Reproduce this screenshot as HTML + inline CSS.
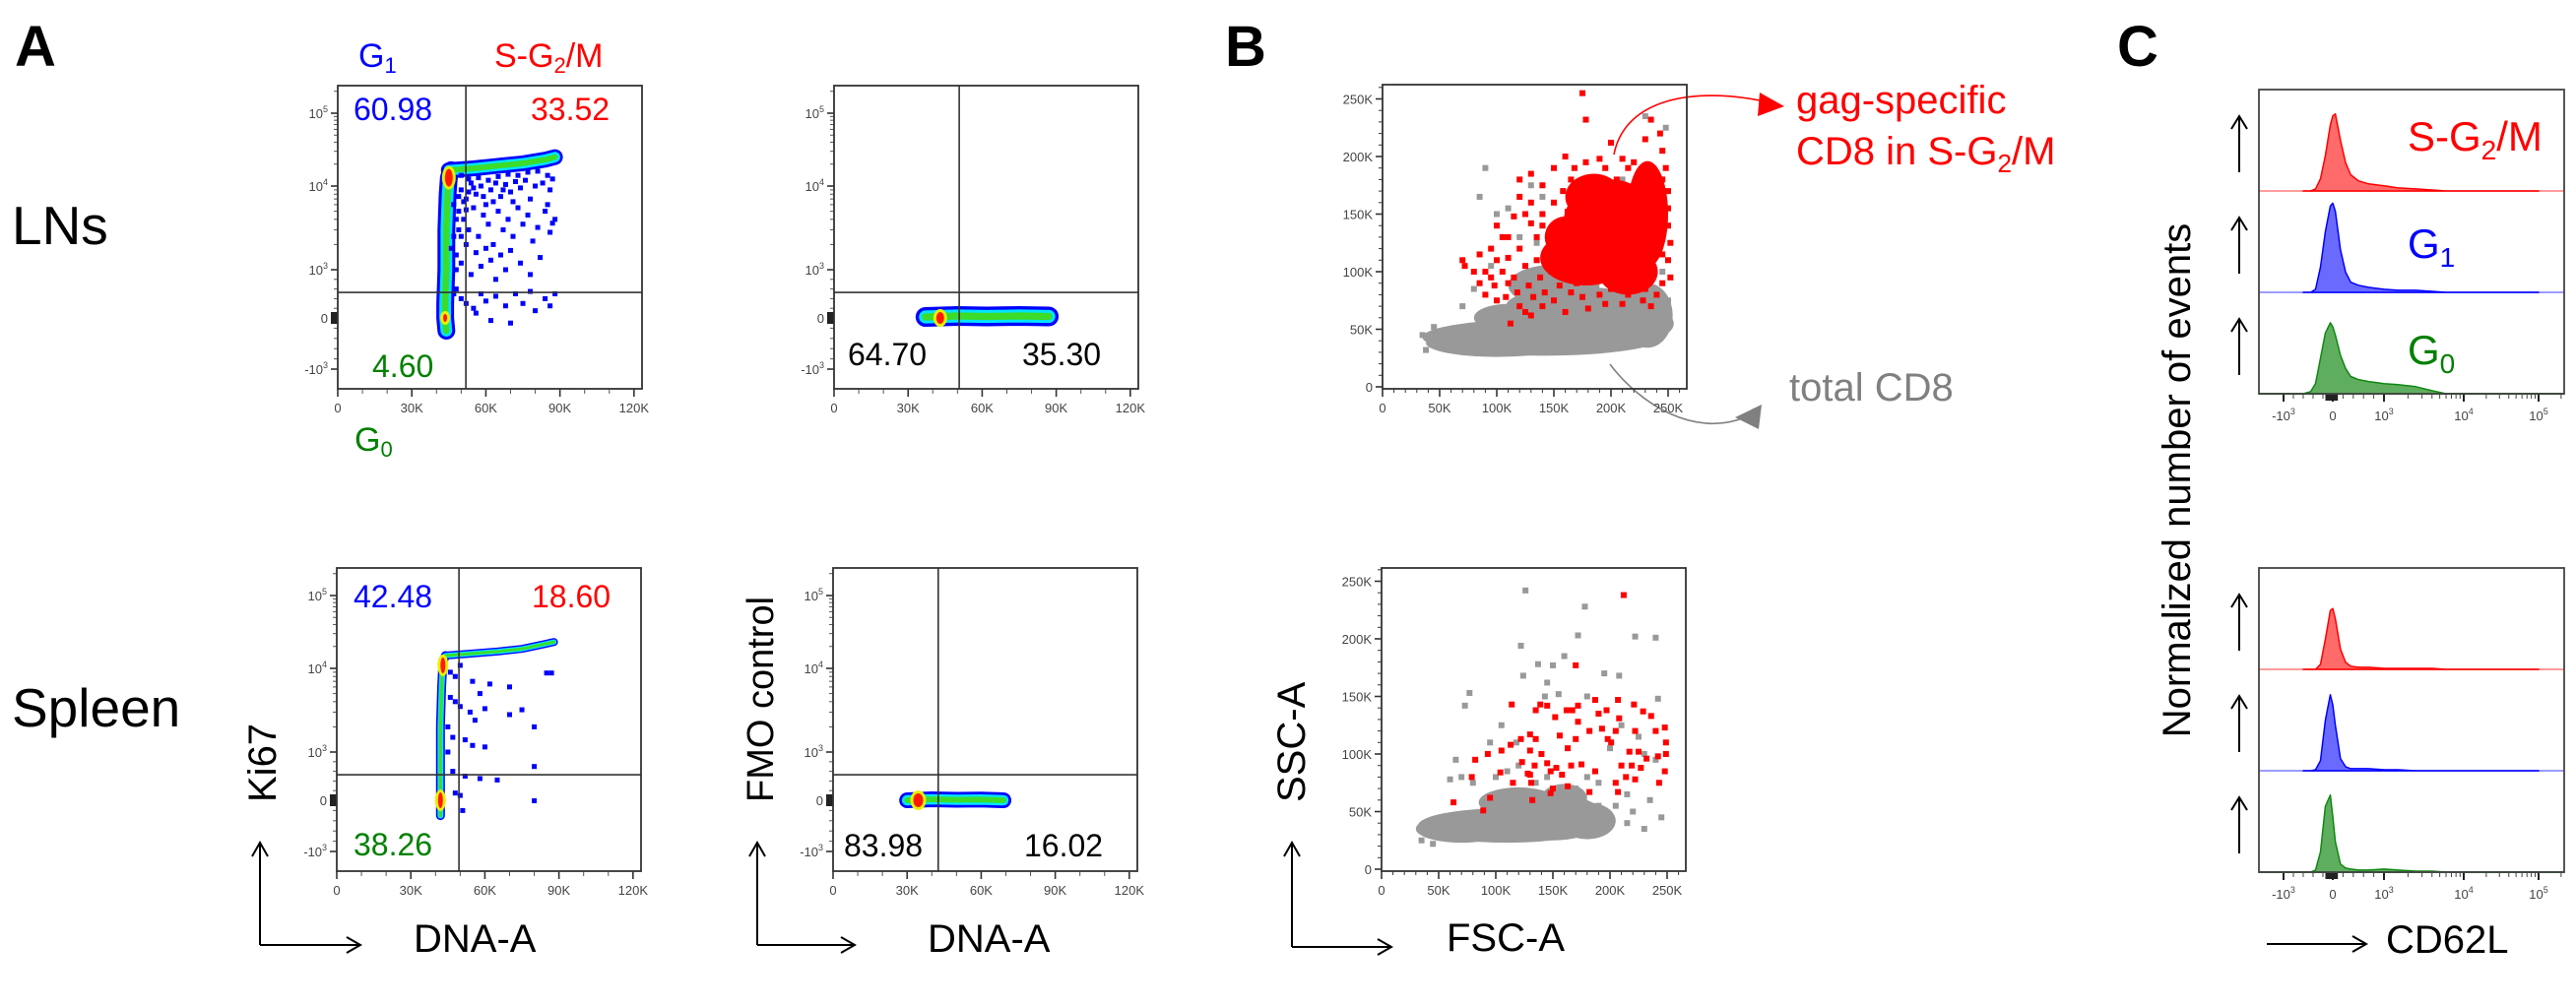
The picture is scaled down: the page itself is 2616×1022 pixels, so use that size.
<!DOCTYPE html>
<html><head><meta charset="utf-8">
<style>
html,body{margin:0;padding:0;background:#fff;}
svg{display:block;font-family:"Liberation Sans",Arial,sans-serif;}
</style></head>
<body>
<svg id="fig" width="2616" height="1022" viewBox="0 0 2616 1022" xmlns="http://www.w3.org/2000/svg">
<rect x="0" y="0" width="2616" height="1022" fill="#fff"/>
<text x="15" y="67" font-size="58" font-weight="bold">A</text>
<text x="1244" y="67" font-size="58" font-weight="bold">B</text>
<text x="2150" y="67" font-size="58" font-weight="bold">C</text>
<text x="12" y="248" font-size="55">LNs</text>
<text x="12" y="738" font-size="55">Spleen</text>

<text x="364" y="68" font-size="34" fill="#0000ff">G<tspan font-size="22" dy="6">1</tspan></text>
<text x="502" y="68" font-size="34" fill="#ff0000">S-G<tspan font-size="22" dy="6">2</tspan><tspan dy="-6">/M</tspan></text>
<text x="360" y="458" font-size="34" fill="#008000">G<tspan font-size="22" dy="6">0</tspan></text>

<text x="359" y="122" font-size="32" fill="#0000ff">60.98</text>
<text x="539" y="122" font-size="32" fill="#ff0000">33.52</text>
<text x="378" y="383" font-size="32" fill="#008000">4.60</text>
<text x="861" y="371" font-size="32" fill="#000">64.70</text>
<text x="1038" y="371" font-size="32" fill="#000">35.30</text>
<text x="359" y="617" font-size="32" fill="#0000ff">42.48</text>
<text x="540" y="617" font-size="32" fill="#ff0000">18.60</text>
<text x="359" y="869" font-size="32" fill="#008000">38.26</text>
<text x="857" y="870" font-size="32" fill="#000">83.98</text>
<text x="1040" y="870" font-size="32" fill="#000">16.02</text>

<text transform="translate(280,815) rotate(-90)" font-size="40">Ki67</text>
<text transform="translate(785,815) rotate(-90)" font-size="38">FMO control</text>
<text x="420" y="967" font-size="40">DNA-A</text>
<text x="942" y="967" font-size="40">DNA-A</text>
<text transform="translate(1325,815) rotate(-90)" font-size="40">SSC-A</text>
<text x="1469" y="966" font-size="40">FSC-A</text>
<text transform="translate(2224,488) rotate(-90)" font-size="40" text-anchor="middle">Normalized number of events</text>
<text x="2423" y="968" font-size="40">CD62L</text>

<g fill="none" stroke="#000" stroke-width="2">
  <path d="M264,960 V856 M256,870 L264,856 L272,870 M264,960 H366 M352,952 L366,960 L352,968"/>
  <path d="M769,960 V856 M761,870 L769,856 L777,870 M769,960 H868 M854,952 L868,960 L854,968"/>
  <path d="M1312,962 V856 M1304,870 L1312,856 L1320,870 M1312,962 H1413 M1399,954 L1413,962 L1399,970"/>
  <path d="M2302,959 H2403 M2389,951 L2403,959 L2389,967"/>
</g>

<text x="1824" y="115" font-size="40" fill="#ff0000">gag-specific</text>
<text x="1824" y="167" font-size="40" fill="#ff0000">CD8 in S-G<tspan font-size="26" dy="8">2</tspan><tspan dy="-8">/M</tspan></text>
<text x="1817" y="407" font-size="40" fill="#808080">total CD8</text>
<path d="M1639,157 C1650,100 1720,88 1792,103" fill="none" stroke="#ff0000" stroke-width="1.6"/>
<polygon points="1812,108 1787,94 1785,118" fill="#ff0000"/>
<path d="M1635,370 C1665,410 1720,445 1772,424" fill="none" stroke="#808080" stroke-width="1.6"/>
<polygon points="1789,411 1762,424 1786,436" fill="#808080"/>

<text x="2445" y="153" font-size="42" fill="#ff0000">S-G<tspan font-size="28" dy="9">2</tspan><tspan dy="-9">/M</tspan></text>
<text x="2445" y="262" font-size="42" fill="#0000ff">G<tspan font-size="28" dy="9">1</tspan></text>
<text x="2445" y="370" font-size="42" fill="#008000">G<tspan font-size="28" dy="9">0</tspan></text>
</svg>

<script>
// ---------------- DATA ----------------
const aXTicks = [0, 30, 60, 90, 120];
const aXTickLabels = ['0', '30K', '60K', '90K', '120K'];
const aXMinor = [10, 20, 40, 50, 70, 80, 100, 110];
const logTicks = [-1000, 0, 1000, 10000, 100000];
const logTickLabels = ['-10^3', '0', '10^3', '10^4', '10^5'];
const logMinor = [2000,3000,4000,5000,6000,7000,8000,9000,20000,30000,40000,50000,60000,70000,80000,90000,200000,-200,-400,-600,-800,200,400,600,800];
const aGateX = [51.9, 50.7, 49.5, 42.6];
const aGateY = 530;

const lnVRidge = [[44,-250],[43.5,0],[43.5,300],[44,1000],[44,3000],[44.5,8000],[45,13000],[46,16500]];
const lnHRidge = [[45,16500],[55,17500],[65,19000],[75,20500],[84,23000],[88,25000]];
const lnHot = [[45,13000],[43.5,0]];
const lnDots = [[50,9000],[52,7000],[54,11000],[56,8000],[58,10000],[60,6000],[62,9000],[64,11000],[66,7500],[68,10500],[70,8500],[72,11500],[74,9500],[76,12000],[78,7000],[80,10000],[83,11000],[85,6000],[86,9000],[88,4000],
[49,5000],[51,4000],[53,3000],[55,5500],[57,2500],[59,4500],[61,3500],[63,2000],[65,5000],[67,3000],[69,4000],[71,2500],[73,5500],[75,3500],[77,4500],[79,2200],[81,3200],[84,5000],[86,2800],[87,3600],
[48,1500],[50,1200],[52,2000],[54,900],[56,1600],[58,1100],[60,1800],[62,1300],[64,800],[66,1500],[68,1000],[70,1700],[74,1200],[78,900],[82,1400],
[48,600],[50,400],[52,300],[55,200],[58,500],[60,350],[64,450],[68,250],[72,500],[75,300],[78,550],[80,150],[84,400],[86,250],[88,500],[70,-100],[56,100],[62,-50],
[47,6000],[48,4000],[47,2500],[49,7500],[48,1000],[47,500],[50,2500],[51,6500],[53,8500],[49,3000],[52,5200],[46,1800],
[50,14000],[53,12500],[57,13000],[61,12000],[65,13500],[69,14500],[73,14000],[77,15500],[81,16000],[85,14000],[87,12500],[55,9500],[59,7500],[63,6500],[67,9000],[71,6500]];

const lnFmoBand = [[37,20],[50,40],[62,30],[75,40],[87,30]];
const lnFmoHot = [[43,0]];

const spVRidge = [[42,-300],[42,0],[42,500],[42,2000],[42.5,6000],[43,12000],[44,15000]];
const spHRidge = [[44,15000],[55,16000],[65,17000],[75,18500],[84,21500],[88,23000]];
const spHot = [[43,11000],[42,0]];
const spDots = [[46,9000],[48,8000],[50,11000],[55,7000],[58,5000],[62,6500],[70,6000],[85,8800],[87,8800],[48,4000],[50,3500],[54,3000],[56,2400],[60,3300],[70,2800],[75,3200],[80,2000],[52,1400],[55,1200],[60,1150],[80,700],[52,500],[58,450],[65,420],[48,150],[50,100],[80,-10],[51,-200],[45,2000],[45,1000],[47,1500],[46,4500],[47,600]];

const spFmoBand = [[30,0],[40,20],[50,10],[60,15],[69,0]];
const spFmoHot = [[34.5,0]];

const bTicks = [0, 50, 100, 150, 200, 250];
const bTickLabels = ['0', '50K', '100K', '150K', '200K', '250K'];
const bTopGrayBlobs = [[140,43,105,16],[100,38,62,12],[200,55,55,20],[170,70,62,17],[232,62,22,28],[150,88,40,18],[110,60,30,12]];
const bTopGrayDots = [[35,45],[38,32],[45,52],[60,50],[75,40],[250,75],[245,100],[240,120],[140,165],[90,190],[85,165],[100,150],[110,155],[248,225],[230,235],[210,180],[130,175],[120,130],[80,85],[70,70],[95,105],[135,125],[160,105]];
const bTopRedBlobs = [[200,140,42,40],[178,112,40,24],[232,150,18,46],[215,100,26,20],[185,165,25,20],[160,130,18,18]];
const bTopRedDots = [[175,255],[178,232],[235,232],[230,215],[243,220],[200,212],[210,198],[190,198],[220,195],[245,205],[160,200],[165,180],[150,190],[130,185],[120,180],[140,175],[125,150],[115,148],[130,142],[100,140],[105,130],[95,120],[85,115],[70,110],[72,105],[85,90],[95,95],[105,100],[110,90],[90,80],[100,75],[120,70],[130,62],[140,70],[160,65],[180,68],[195,72],[215,80],[230,85],[245,90],[250,110],[250,140],[250,170],[248,190],[240,130],[155,140],[145,120],[135,110],[120,120],[110,112],[150,160],[175,165],[185,180],[205,180],[225,178],[112,55],[125,65],[150,75],[200,85],[235,70],[240,80],
[140,150],[135,130],[125,105],[115,95],[128,88],[138,95],[148,100],[155,88],[165,82],[170,90],[142,82],[132,78],[118,82],[108,78],[158,170],[168,190],[178,195],[195,190],[215,190],[235,190],[245,180],[250,155],[252,125],[252,95],[245,115],[238,100],[228,75],[210,72],[190,80],[175,78],[160,95],[150,110],[140,140],[130,160],[120,165],[110,130],[100,110],[90,100],[80,100],[98,88],[162,152],[170,142],[180,152],[245,160],[240,145]];

const bBotGrayBlobs = [[110,38,78,15],[150,45,45,20],[120,58,35,13],[180,42,25,16],[70,35,40,12],[160,62,20,12]];
const bBotGrayDots = [[126,242],[178,228],[172,203],[222,202],[240,201],[122,194],[160,185],[137,178],[150,177],[124,168],[195,170],[208,168],[145,162],[73,142],[77,153],[143,150],[155,152],[180,150],[242,148],[105,125],[95,110],[118,110],[210,125],[225,115],[200,105],[230,100],[240,95],[180,80],[190,75],[215,65],[235,60],[245,45],[60,78],[65,95],[70,80],[80,75],[190,55],[200,40],[215,40],[230,35],[100,80],[110,85],[120,90],[135,75],[145,80],[170,70],[205,55],[220,50],[35,25],[45,22]];
const bBotRedDots = [[212,238],[170,177],[114,143],[139,143],[145,142],[135,138],[172,142],[167,138],[187,147],[207,147],[221,143],[229,137],[236,133],[208,131],[172,128],[152,132],[162,138],[197,138],[190,135],[205,120],[222,120],[240,120],[248,123],[182,120],[193,122],[130,117],[135,113],[122,113],[156,116],[170,113],[198,113],[201,110],[113,108],[105,103],[93,100],[130,103],[140,100],[163,105],[217,102],[225,102],[232,96],[242,98],[249,110],[249,100],[82,95],[123,93],[134,90],[145,92],[175,91],[187,85],[210,90],[219,90],[227,88],[248,85],[79,80],[128,83],[148,85],[153,88],[166,90],[104,84],[131,75],[115,75],[163,72],[150,70],[148,66],[182,67],[207,67],[222,78],[243,75],[95,62],[132,60],[63,58],[89,51],[130,82],[158,82],[205,75],[214,80]];

const cGrid = [-600,-450,-350,-250,-150,-50,0,50,150,250,350,500,700,1000,1500,2500,4000,6000,100000];
const cTopRed   = [0,0,0.02,0.12,0.35,0.65,0.74,0.76,0.5,0.28,0.16,0.1,0.07,0.05,0.03,0.02,0.01,0,0];
const cTopBlue  = [0,0,0.03,0.25,0.6,0.85,0.88,0.8,0.42,0.2,0.1,0.07,0.05,0.03,0.02,0.02,0.01,0,0];
const cTopGreen = [0,0.02,0.1,0.35,0.6,0.7,0.66,0.58,0.38,0.25,0.17,0.14,0.12,0.1,0.09,0.07,0.03,0,0];
const cBotRed   = [0,0,0,0.05,0.3,0.58,0.6,0.5,0.2,0.07,0.03,0.02,0.02,0.01,0.01,0.01,0.01,0,0];
const cBotBlue  = [0,0,0.01,0.1,0.5,0.75,0.65,0.45,0.12,0.04,0.02,0.02,0.02,0.01,0.01,0,0,0,0];
const cBotGreen = [0,0,0.02,0.2,0.65,0.76,0.55,0.3,0.08,0.04,0.03,0.02,0.02,0.03,0.02,0.01,0.01,0,0];

// ---------------- HELPERS ----------------
const NS = 'http://www.w3.org/2000/svg';
const fig = document.getElementById('fig');
function mk(tag, attrs, parent) {
  const e = document.createElementNS(NS, tag);
  for (const k in attrs) e.setAttribute(k, attrs[k]);
  (parent || fig).appendChild(e);
  return e;
}
function T(v) { return Math.abs(v) <= 1000 ? v / 1000 : Math.sign(v) * (1 + Math.log10(Math.abs(v) / 1000)); }
function interp(t, ks, ps) {
  let i = 0;
  if (t <= ks[0]) i = 0; else if (t >= ks[ks.length - 1]) i = ks.length - 2;
  else { while (t > ks[i + 1]) i++; }
  return ps[i] + (t - ks[i]) / (ks[i + 1] - ks[i]) * (ps[i + 1] - ps[i]);
}
function tickText(parent, label, x, y, anchor, name) {
  const t = mk('text', {x: x, y: y, 'font-size': 13, fill: '#444', 'text-anchor': anchor}, parent);
  
  
  const parts = label.split('^');
  t.appendChild(document.createTextNode(parts[0]));
  if (parts[1]) {
    const s = mk('tspan', {'font-size': 9, dy: -6}, t);
    s.textContent = parts[1];
  }
  return t;
}

// ---------------- PANEL A ----------------
const A_PLOTS = [
  {x: 343, y: 87, name: 'ln-ki67-plot', gate: aGateX[0]},
  {x: 847, y: 87, name: 'ln-fmo-plot', gate: aGateX[1]},
  {x: 342, y: 577, name: 'spleen-ki67-plot', gate: aGateX[2]},
  {x: 846, y: 577, name: 'spleen-fmo-plot', gate: aGateX[3]}
];
const AW = 309, AH = 308;
function axA(p, k) { return p.x + k * 2.507; }
function ayA(p, v) { return p.y + interp(T(v), [-1, 0, 1, 2, 3], [288, 236, 187, 102, 28]); }

function drawAFrame(p) {
  const g = mk('g', {});
  
  
  p.g = g;
  const dg = mk('g', {}, g);
  
  
  p.dg = dg;
  aXTicks.forEach((k, i) => {
    const l = mk('line', {x1: axA(p, k), x2: axA(p, k), y1: p.y + AH, y2: p.y + AH + 8, stroke: '#333', 'stroke-width': 1.6}, g);
    
    
    tickText(g, aXTickLabels[i], axA(p, k), p.y + AH + 24, 'middle', 'x-tick-label');
  });
  aXMinor.forEach(k => {
    const l = mk('line', {x1: axA(p, k), x2: axA(p, k), y1: p.y + AH, y2: p.y + AH + 5, stroke: '#555', 'stroke-width': 1}, g);
    
    
  });
  logTicks.forEach((v, i) => {
    const l = mk('line', {x1: p.x - 7, x2: p.x, y1: ayA(p, v), y2: ayA(p, v), stroke: '#333', 'stroke-width': 1.6}, g);
    
    
    tickText(g, logTickLabels[i], p.x - 10, ayA(p, v) + 5, 'end', 'y-tick-label');
  });
  logMinor.forEach(v => {
    const l = mk('line', {x1: p.x - 4, x2: p.x, y1: ayA(p, v), y2: ayA(p, v), stroke: '#555', 'stroke-width': 1}, g);
    
    
  });
  const z = mk('rect', {x: p.x - 7, y: ayA(p, 0) - 6, width: 7, height: 12, fill: '#222'}, g);
  
  
}
function drawAGates(p) {
  const v = mk('line', {x1: axA(p, p.gate), x2: axA(p, p.gate), y1: p.y, y2: p.y + AH, stroke: '#333', 'stroke-width': 1.6}, p.g);
  
  
  const h = mk('line', {x1: p.x, x2: p.x + AW, y1: ayA(p, aGateY), y2: ayA(p, aGateY), stroke: '#333', 'stroke-width': 1.6}, p.g);
  
  
  const r = mk('rect', {x: p.x, y: p.y, width: AW, height: AH, fill: 'none', stroke: '#333', 'stroke-width': 1.8}, p.g);
  
  
}
function ridge(p, pts, w, name) {
  const d = pts.map(q => axA(p, q[0]).toFixed(1) + ',' + ayA(p, q[1]).toFixed(1)).join(' ');
  const cols = ['#0000ff', '#00e5ff', '#3ddc2a'];
  const ws = [w, w * 0.66, w * 0.36];
  cols.forEach((c, i) => {
    const pl = mk('polyline', {points: d, fill: 'none', stroke: c, 'stroke-width': ws[i], 'stroke-linecap': 'round', 'stroke-linejoin': 'round'}, p.dg);
    
    
  });
}
function hot(p, pts, rx, ry) {
  pts.forEach(q => {
    const cx = axA(p, q[0]), cy = ayA(p, q[1]);
    const e1 = mk('ellipse', {cx: cx, cy: cy, rx: rx + 3, ry: ry + 3, fill: '#e8f000'}, p.dg);
    
    
    const e2 = mk('ellipse', {cx: cx, cy: cy, rx: rx, ry: ry, fill: '#ff1a00'}, p.dg);
    
    
  });
}
function dots(p, pts, color, sx, sy, size) {
  pts.forEach(q => {
    const r = mk('rect', {x: sx(p, q[0]) - size / 2, y: sy(p, q[1]) - size / 2, width: size, height: size, fill: color}, p.dg);
    
    
  });
}

A_PLOTS.forEach(drawAFrame);
ridge(A_PLOTS[0], lnVRidge, 18, 'g1-vertical-ridge');
ridge(A_PLOTS[0], lnHRidge, 16, 's-phase-ridge');
dots(A_PLOTS[0], lnDots, '#0000ff', axA, ayA, 5);
hot(A_PLOTS[0], lnHot.slice(0, 1), 4, 9);
hot(A_PLOTS[0], lnHot.slice(1), 2, 4);
ridge(A_PLOTS[1], lnFmoBand, 20, 'fmo-band');
hot(A_PLOTS[1], lnFmoHot, 4, 6);
ridge(A_PLOTS[2], spVRidge, 9, 'g1-vertical-ridge');
ridge(A_PLOTS[2], spHRidge, 8, 's-phase-ridge');
dots(A_PLOTS[2], spDots, '#0000ff', axA, ayA, 5);
hot(A_PLOTS[2], spHot, 2.5, 8);
ridge(A_PLOTS[3], spFmoBand, 16, 'fmo-band');
hot(A_PLOTS[3], spFmoHot, 5, 7);
A_PLOTS.forEach(drawAGates);

// ---------------- PANEL B ----------------
const B_PLOTS = [
  {x: 1404, y: 86, w: 309, h: 309, name: 'lns-fsc-ssc-plot'},
  {x: 1403, y: 577, w: 309, h: 308, name: 'spleen-fsc-ssc-plot'}
];
function bx(p, k) { return p.x + k / 50 * 58; }
function by(p, k) { return p.y + p.h - 2 - k / 50 * 58.5; }
function drawBFrame(p) {
  const g = mk('g', {});
  
  
  p.g = g;
  const dg = mk('g', {}, g);
  
  
  p.dg = dg;
  for (let k = 0; k <= 260; k += 10) {
    const major = k % 50 === 0;
    const lx = mk('line', {x1: bx(p, k), x2: bx(p, k), y1: p.y + p.h, y2: p.y + p.h + (major ? 8 : 4), stroke: '#333', 'stroke-width': major ? 1.6 : 1}, g);
    
    
    const ly = mk('line', {x1: p.x - (major ? 7 : 4), x2: p.x, y1: by(p, k), y2: by(p, k), stroke: '#333', 'stroke-width': major ? 1.6 : 1}, g);
    
    
  }
  bTicks.forEach((k, i) => {
    tickText(g, bTickLabels[i], bx(p, k), p.y + p.h + 24, 'middle', 'x-tick-label');
    tickText(g, bTickLabels[i], p.x - 10, by(p, k) + 5, 'end', 'y-tick-label');
  });
}
function blobs(p, list, color) {
  list.forEach(b => {
    const e = mk('ellipse', {cx: bx(p, b[0]), cy: by(p, b[1]), rx: b[2] / 50 * 58, ry: b[3] / 50 * 58.5, fill: color}, p.dg);
    
    
  });
}
function frameB(p) {
  const r = mk('rect', {x: p.x, y: p.y, width: p.w, height: p.h, fill: 'none', stroke: '#333', 'stroke-width': 1.8}, p.g);
  
  
}
B_PLOTS.forEach(drawBFrame);
blobs(B_PLOTS[0], bTopGrayBlobs, '#999');
dots(B_PLOTS[0], bTopGrayDots, '#999', bx, by, 6);
blobs(B_PLOTS[0], bTopRedBlobs, '#ff0000');
dots(B_PLOTS[0], bTopRedDots, '#ff0000', bx, by, 6);
blobs(B_PLOTS[1], bBotGrayBlobs, '#999');
dots(B_PLOTS[1], bBotGrayDots, '#999', bx, by, 6);
dots(B_PLOTS[1], bBotRedDots, '#ff0000', bx, by, 6);
B_PLOTS.forEach(frameB);

// ---------------- PANEL C ----------------
const C_PLOTS = [
  {x: 2294, y: 91, w: 310, h: 309, name: 'lns-cd62l-histograms', series: [cTopRed, cTopBlue, cTopGreen]},
  {x: 2294, y: 577, w: 310, h: 309, name: 'spleen-cd62l-histograms', series: [cBotRed, cBotBlue, cBotGreen]}
];
const cFill = ['#ff6a6a', '#6a6aff', '#5fae5f'];
const cStroke = ['#ff0000', '#0000ff', '#118811'];
const cBase = ['#ff9c9c', '#9c9cff', '#118811'];
const cNames = ['sg2m', 'g1', 'g0'];
function cx(p, v) { return p.x + interp(T(v), [-1, 0, 1, 2, 3], [25, 75, 127, 208, 284]); }
C_PLOTS.forEach(p => {
  const g = mk('g', {});
  
  
  const rowH = p.h / 3;
  p.series.forEach((s, i) => {
    const base = p.y + (i + 1) * rowH;
    let d = 'M' + cx(p, cGrid[0]).toFixed(1) + ',' + base.toFixed(1);
    cGrid.forEach((v, j) => { d += ' L' + cx(p, v).toFixed(1) + ',' + (base - s[j] * rowH).toFixed(1); });
    d += ' L' + cx(p, cGrid[cGrid.length - 1]).toFixed(1) + ',' + base.toFixed(1) + ' Z';
    const bl = mk('line', {x1: p.x, x2: p.x + p.w, y1: base, y2: base, stroke: cBase[i], 'stroke-width': 2}, g);
    
    
    const h = mk('path', {d: d, fill: cFill[i], stroke: cStroke[i], 'stroke-width': 1.5, 'stroke-linejoin': 'round'}, g);
    
    
    const ax = 2274, top = p.y + i * rowH + 27, bot = p.y + i * rowH + 84;
    const ar = mk('path', {d: 'M' + ax + ',' + bot + ' V' + top + ' M' + (ax - 8) + ',' + (top + 13) + ' L' + ax + ',' + top + ' L' + (ax + 8) + ',' + (top + 13), fill: 'none', stroke: '#000', 'stroke-width': 2}, g);
    
    
  });
  logTicks.forEach((v, i) => {
    const l = mk('line', {x1: cx(p, v), x2: cx(p, v), y1: p.y + p.h, y2: p.y + p.h + 8, stroke: '#222', 'stroke-width': 2}, g);
    
    
    tickText(g, logTickLabels[i], cx(p, v), p.y + p.h + 27, 'middle', 'x-tick-label');
  });
  logMinor.forEach(v => {
    const l = mk('line', {x1: cx(p, v), x2: cx(p, v), y1: p.y + p.h, y2: p.y + p.h + 5, stroke: '#444', 'stroke-width': 1}, g);
    
    
  });
  const z = mk('rect', {x: cx(p, -150), y: p.y + p.h, width: cx(p, 100) - cx(p, -150), height: 7, fill: '#222'}, g);
  
  
  const r = mk('rect', {x: p.x, y: p.y, width: p.w, height: p.h, fill: 'none', stroke: '#444', 'stroke-width': 1.8}, g);
  
  
});
</script>
</body></html>
